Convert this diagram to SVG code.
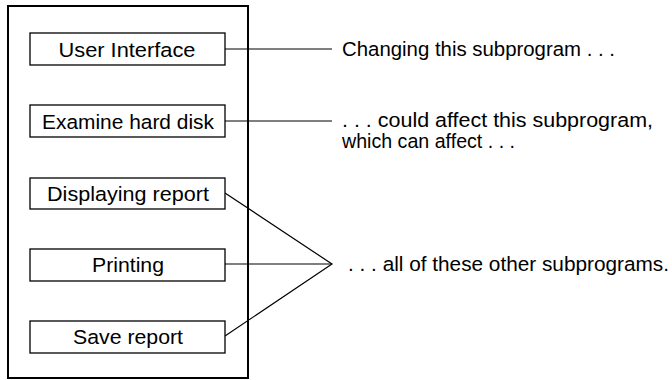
<svg xmlns="http://www.w3.org/2000/svg" width="672" height="380" viewBox="0 0 672 380">
<style>
.frame{fill:none;stroke:#000;stroke-width:2}
.box{fill:#fff;stroke:#000;stroke-width:1.3}
.t{font-family:"Liberation Sans",Arial,sans-serif;font-size:20.5px;fill:#000}
.c{text-anchor:middle}
.ln{fill:none;stroke:#000;stroke-width:1.2}
</style>
<rect class="frame" x="8" y="6" width="240" height="372"/>
<g id="connectors">
<line class="ln" x1="225" y1="49" x2="332" y2="49"/>
<line class="ln" x1="225" y1="121" x2="332" y2="121"/>
<polyline class="ln" points="225,193 332,264 225,336"/>
<line class="ln" x1="225" y1="264" x2="332" y2="264"/>
</g>
<g id="user-interface"><rect class="box" x="30" y="33" width="195" height="32"/><text class="t c" x="127" y="56.5" textLength="137" lengthAdjust="spacingAndGlyphs">User Interface</text></g>
<g id="examine-hard-disk"><rect class="box" x="30" y="105" width="195" height="32"/><text class="t c" x="128" y="128.5" textLength="172" lengthAdjust="spacingAndGlyphs">Examine hard disk</text></g>
<g id="displaying-report"><rect class="box" x="30" y="178" width="195" height="31"/><text class="t c" x="128" y="200.5" textLength="162" lengthAdjust="spacingAndGlyphs">Displaying report</text></g>
<g id="printing"><rect class="box" x="30" y="249" width="195" height="32"/><text class="t c" x="128" y="271.5" textLength="72" lengthAdjust="spacingAndGlyphs">Printing</text></g>
<g id="save-report"><rect class="box" x="30" y="321" width="195" height="32"/><text class="t c" x="128" y="344" textLength="110" lengthAdjust="spacingAndGlyphs">Save report</text></g>
<g id="labels">
<text class="t" x="342" y="56" textLength="273" lengthAdjust="spacingAndGlyphs">Changing this subprogram . . .</text>
<text class="t" x="342" y="127" textLength="311" lengthAdjust="spacingAndGlyphs">. . . could affect this subprogram,</text>
<text class="t" x="342" y="148" textLength="173" lengthAdjust="spacingAndGlyphs">which can affect . . .</text>
<text class="t" x="348" y="270.5" textLength="321" lengthAdjust="spacingAndGlyphs">. . . all of these other subprograms.</text>
</g>
</svg>
